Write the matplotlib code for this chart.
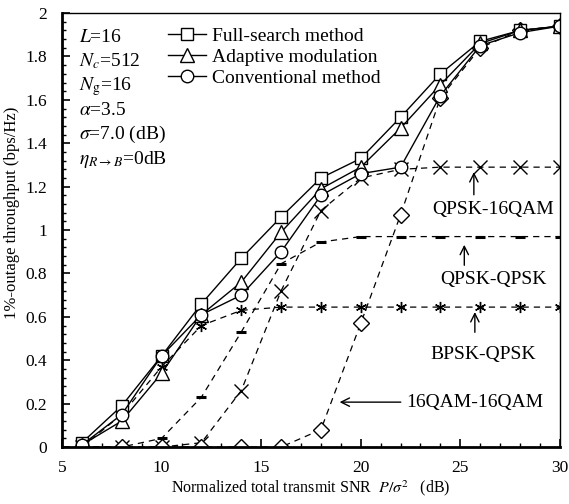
import matplotlib
matplotlib.use("Agg")
import matplotlib.pyplot as plt
from matplotlib.ticker import MultipleLocator, FuncFormatter

plt.rcParams['font.family'] = ['Liberation Serif', 'DejaVu Serif']
plt.rcParams['mathtext.fontset'] = 'stix'

snr = [6, 8, 10, 12, 14, 16, 18, 20, 22, 24, 26, 28, 30]

# solid curves
full_search = [0.02, 0.19, 0.42, 0.66, 0.87, 1.06, 1.24, 1.33, 1.52, 1.72, 1.87, 1.92, 1.94]
adaptive = [0.01, 0.12, 0.34, 0.61, 0.76, 0.99, 1.19, 1.29, 1.47, 1.67, 1.86, 1.92, 1.94]
conventional = [0.01, 0.15, 0.42, 0.61, 0.70, 0.90, 1.16, 1.26, 1.29, 1.62, 1.85, 1.91, 1.94]

# fixed modulation curves (dashed)
bpsk_qpsk = [0.0, 0.15, 0.37, 0.56, 0.63, 0.645, 0.645, 0.645, 0.645, 0.645, 0.645, 0.645, 0.645]
qpsk_qpsk = [0.0, 0.0, 0.04, 0.23, 0.53, 0.845, 0.945, 0.97, 0.97, 0.97, 0.97, 0.97, 0.97]
qpsk_16qam = [0.0, 0.0, 0.0, 0.02, 0.26, 0.72, 1.09, 1.24, 1.28, 1.29, 1.29, 1.29, 1.29]
qam16_qam16 = [0.0, 0.0, 0.0, 0.0, 0.0, 0.0, 0.08, 0.57, 1.07, 1.61, 1.84, 1.92, 1.94]

params = ['$L$=16', '$N_c$=512', r'$N_{\mathrm{g}}$=16', r'$\alpha$=3.5',
          r'$\sigma$=7.0 (dB)', r'$\eta_{R\rightarrow B}$=0dB']

fig = plt.figure(figsize=(5.69, 5.04), dpi=100)
ax = fig.add_axes([0.109, 0.113, 0.875, 0.861])

dash = dict(color='black', lw=0.9, ls=(0, (5, 4)), mfc='white', mec='black')
ax.plot(snr, bpsk_qpsk, marker=(6, 2, 0), ms=8, mew=1, **dash)
ax.plot(snr, qpsk_qpsk, marker='_', ms=7, mew=2.2, **dash)
ax.plot(snr, qpsk_16qam, marker='x', ms=10, mew=1, **dash)
ax.plot(snr, qam16_qam16, marker='D', ms=8, mew=1, **dash)

solid = dict(color='black', lw=1, mfc='white', mec='black', mew=1)
l1, = ax.plot(snr, full_search, marker='s', ms=9, label='Full-search method', **solid)
l2, = ax.plot(snr, adaptive, marker='^', ms=10, label='Adaptive modulation', **solid)
l3, = ax.plot(snr, conventional, marker='o', ms=9, label='Conventional method', **solid)

ax.set_xlim(5, 30)
ax.set_ylim(0, 2)
ax.xaxis.set_major_locator(MultipleLocator(5))
ax.xaxis.set_minor_locator(MultipleLocator(1))
ax.yaxis.set_major_locator(MultipleLocator(0.2))
ax.yaxis.set_minor_locator(MultipleLocator(0.04))
ax.yaxis.set_major_formatter(FuncFormatter(lambda v, p: ('%.1f' % v).rstrip('0').rstrip('.')))
ax.tick_params(which='both', direction='in', top=False, right=False, labelsize=12.5)
ax.tick_params(which='major', length=6, width=1.2)
ax.tick_params(which='minor', length=3, width=1)
ax.tick_params(axis='x', pad=9)
ax.tick_params(axis='y', pad=11)
ax.spines['left'].set_linewidth(2)
ax.spines['bottom'].set_linewidth(2)
ax.spines['top'].set_linewidth(1)
ax.spines['right'].set_linewidth(1)

ax.set_xlabel(r'Normalized total transmit SNR  $P/\sigma^2$   (dB)', fontsize=11.5, labelpad=2)
ax.set_ylabel('1%-outage throughput (bps/Hz)', fontsize=12)
ax.yaxis.set_label_coords(-0.085, 0.54)

ax.legend(handles=[l1, l2, l3], loc='upper left', bbox_to_anchor=(10.3, 1.935),
          bbox_transform=ax.transData, frameon=False, fontsize=14,
          handlelength=2.0, handletextpad=0.3, labelspacing=0.18,
          borderpad=0, borderaxespad=0)

for i, s in enumerate(params):
    ax.text(5.85, 1.869 - i * 0.1125, s, fontsize=14, va='baseline', ha='left')

arrow = dict(arrowstyle='->', lw=1, color='black', mutation_scale=15)
ax.annotate('', xy=(25.68, 1.28), xytext=(25.68, 1.15), arrowprops=arrow)
ax.text(26.64, 1.095, 'QPSK-16QAM', fontsize=14, ha='center', va='center')
ax.annotate('', xy=(25.2, 0.945), xytext=(25.2, 0.825), arrowprops=arrow)
ax.text(26.64, 0.772, 'QPSK-QPSK', fontsize=14, ha='center', va='center')
ax.annotate('', xy=(25.73, 0.635), xytext=(25.73, 0.516), arrowprops=arrow)
ax.text(26.13, 0.428, 'BPSK-QPSK', fontsize=14, ha='center', va='center')
ax.annotate('', xy=(18.8, 0.207), xytext=(22.15, 0.207), arrowprops=arrow)
ax.text(22.27, 0.207, '16QAM-16QAM', fontsize=14, ha='left', va='center')

fig.savefig('out.png', dpi=100)
